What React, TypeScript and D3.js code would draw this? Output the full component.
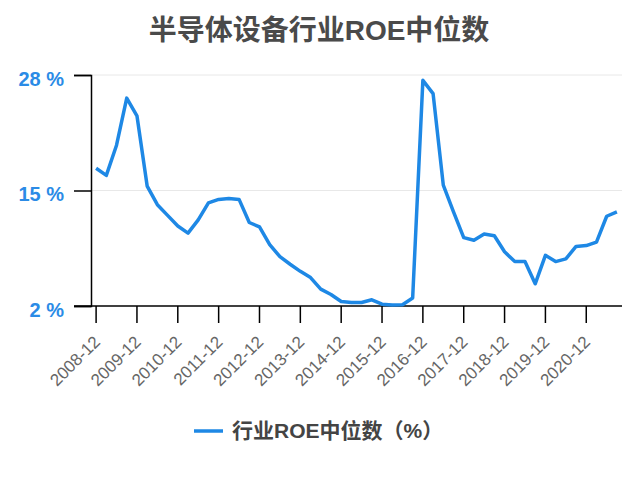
import React, { useEffect, useRef } from 'react';
import * as d3 from 'd3';

// quarterly periods, 2008-12 .. 2021-09
const years = d3.range(2009, 2022);
const periods: string[] = ['2008-12'];
years.forEach(y => {
  ['03', '06', '09', '12'].forEach(m => {
    if (y === 2021 && m === '12') return;
    periods.push(`${y}-${m}`);
  });
});

const roeMedian = [
  17.5, 16.7, 20.1, 25.4, 23.4, 15.5, 13.4, 12.2, 11.0, 10.2,
  11.7, 13.6, 14.0, 14.1, 14.0, 11.4, 10.9, 8.9, 7.55, 6.7,
  5.9, 5.2, 3.9, 3.3, 2.5, 2.4, 2.4, 2.7, 2.2, 2.1,
  2.15, 2.9, 27.4, 25.9, 15.6, 12.6, 9.7, 9.4, 10.1, 9.9,
  8.1, 7.0, 7.0, 4.5, 7.7, 7.0, 7.3, 8.7, 8.8, 9.2,
  12.1, 12.6,
];

const yTicks = [2, 15, 28];
const tickLabels = periods.filter(p => p.endsWith('-12'));

const title = '半导体设备行业ROE中位数';
const seriesName = '行业ROE中位数（%）';

const App: React.FC = () => {
  const ref = useRef<SVGSVGElement | null>(null);

  useEffect(() => {
    if (!ref.current) return;
    const svg = d3.select(ref.current);
    svg.selectAll('*').remove();

    const font = '"Liberation Sans", Arial, "Noto Sans CJK SC", sans-serif';
    const left = 91, right = 622, top = 75, bottom = 306;

    const x = d3.scaleBand<string>().domain(periods).range([left, right]);
    const y = d3.scaleLinear().domain([2, 28]).range([bottom, top]);
    const cx = (p: string) => (x(p) as number) + x.bandwidth() / 2;

    svg.append('text')
      .attr('x', 319).attr('y', 40)
      .attr('text-anchor', 'middle')
      .attr('font-family', font)
      .attr('font-size', 28).attr('font-weight', 'bold')
      .attr('fill', '#4a4a4a')
      .text(title);

    // grid
    svg.append('g').selectAll('line')
      .data(yTicks.slice(1))
      .enter().append('line')
      .attr('x1', left).attr('x2', right)
      .attr('y1', d => y(d)).attr('y2', d => y(d))
      .attr('stroke', '#e8e8e8').attr('stroke-width', 1);

    // y axis
    const yAxis = svg.append('g')
      .attr('transform', `translate(${left},0)`)
      .call(d3.axisLeft(y).tickValues(yTicks).tickSize(17).tickPadding(10).tickFormat(d => `${d} %`));
    yAxis.select('.domain').attr('stroke', '#000').attr('stroke-width', 1.5);
    yAxis.selectAll('.tick line').attr('stroke', '#000').attr('stroke-width', 1.5);
    yAxis.selectAll('.tick text')
      .attr('font-family', font).attr('font-size', 20).attr('font-weight', 'bold')
      .attr('dy', '0.5em')
      .attr('fill', '#2b8be6');

    // x axis
    const xAxis = svg.append('g')
      .attr('transform', `translate(0,${bottom})`)
      .call(d3.axisBottom(x).tickValues(tickLabels).tickSize(17).tickSizeOuter(0));
    xAxis.select('.domain').attr('stroke', '#000').attr('stroke-width', 1.5)
      .attr('d', `M${left - 17},0H${right}`);
    xAxis.selectAll('.tick line').attr('stroke', '#000').attr('stroke-width', 1.5);
    xAxis.selectAll('.tick text')
      .attr('font-family', font).attr('font-size', 17)
      .attr('fill', '#666')
      .attr('text-anchor', 'end')
      .attr('dy', 0)
      .attr('transform', 'translate(5,37) rotate(-45)')
      .attr('y', 0).attr('x', 0);

    const line = d3.line<number>()
      .x((_, i) => cx(periods[i]))
      .y(d => y(d));

    svg.append('path')
      .datum(roeMedian)
      .attr('d', line)
      .attr('fill', 'none')
      .attr('stroke', '#1e88e5')
      .attr('stroke-width', 3.5)
      .attr('stroke-linejoin', 'round');

    // legend
    const lg = svg.append('g').attr('transform', 'translate(194,431)');
    lg.append('line').attr('x1', 0).attr('x2', 29).attr('y1', 0).attr('y2', 0)
      .attr('stroke', '#1e88e5').attr('stroke-width', 3.5);
    lg.append('text')
      .attr('x', 38).attr('y', 7)
      .attr('font-family', font).attr('font-size', 21).attr('font-weight', 'bold')
      .attr('fill', '#444')
      .text(seriesName);
  }, []);

  return <svg ref={ref} width={640} height={477} style={{ position: 'absolute', left: 0, top: 0 }} />;
};

export default App;
